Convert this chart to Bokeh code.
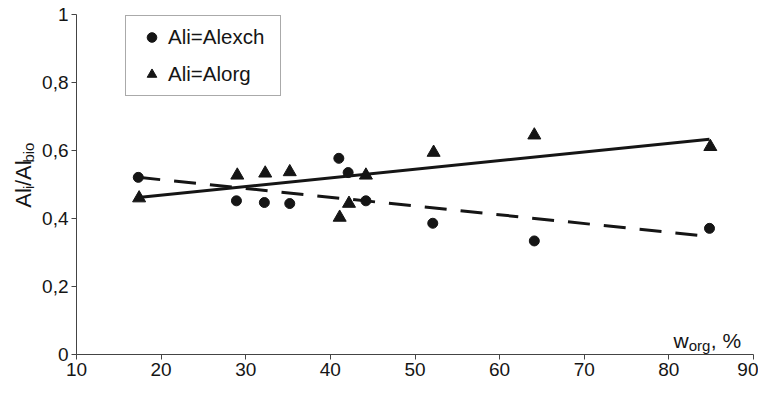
from math import pi
from bokeh.plotting import figure
from bokeh.layouts import row
from bokeh.models import Label, FixedTicker, Legend, LegendItem, Range1d
from bokeh.embed import file_html
from bokeh.resources import INLINE

# ---- data ----
w_org_exch = [17.3, 28.9, 32.2, 35.2, 41.0, 42.1, 44.2, 52.1, 64.1, 84.8]
ratio_exch = [0.521, 0.452, 0.447, 0.444, 0.577, 0.535, 0.452, 0.386, 0.334, 0.371]
w_org_org = [17.4, 29.0, 32.3, 35.2, 41.1, 42.2, 44.2, 52.2, 64.1, 84.9]
ratio_org = [0.460, 0.527, 0.533, 0.537, 0.403, 0.444, 0.527, 0.594, 0.645, 0.611]
trend_x = [17.3, 84.8]
trend_exch = [0.521, 0.347]
trend_org = [0.462, 0.633]
x_ticks = [10, 20, 30, 40, 50, 60, 70, 80, 90]
y_ticks = [0, 0.2, 0.4, 0.6, 0.8, 1]
y_tick_labels = ["0", "0,2", "0,4", "0,6", "0,8", "1"]
series_labels = ["Ali=Alexch", "Ali=Alorg"]

FONT = "Liberation Sans"
INK = "#151515"
H = 384
YW = 38                      # width of the strip holding the y title
W = 758 - YW
LEFT, RIGHT, TOP, BOTTOM = 84 - 8 - YW, 5, 14, 30
frame_w = W - LEFT - RIGHT
frame_h = H - TOP - BOTTOM

p = figure(width=W, height=H, x_range=Range1d(10, 90), y_range=Range1d(0, 1),
           output_backend="svg", toolbar_location=None,
           min_border_left=LEFT, min_border_right=RIGHT,
           min_border_top=TOP, min_border_bottom=BOTTOM)
p.outline_line_color = None
p.grid.visible = False

for ax in (p.xaxis[0], p.yaxis[0]):
    ax.axis_line_color = "#444444"
    ax.axis_line_width = 1
    ax.major_tick_line_color = "#444444"
    ax.major_tick_in = 0
    ax.major_tick_out = 5
    ax.minor_tick_in = 0
    ax.minor_tick_out = 0
    ax.major_label_text_font = FONT
    ax.major_label_text_font_size = "19px"
    ax.major_label_text_color = INK

p.xaxis[0].ticker = FixedTicker(ticks=x_ticks)
p.xaxis[0].major_label_standoff = 3
p.yaxis[0].ticker = FixedTicker(ticks=y_ticks)
p.yaxis[0].major_label_standoff = 3
p.yaxis[0].major_label_overrides = {t: s for t, s in zip(y_ticks, y_tick_labels)}

# trend lines
p.line(trend_x, trend_org, line_color=INK, line_width=3)
p.line(trend_x, trend_exch, line_color=INK, line_width=3, line_dash="22 14")

r1 = p.scatter(w_org_exch, ratio_exch, marker="circle", size=10,
               fill_color=INK, line_color=INK)
r2 = p.scatter(w_org_org, ratio_org, marker="triangle", size=13,
               fill_color=INK, line_color=INK)

legend = Legend(items=[LegendItem(label=series_labels[0], renderers=[r1]),
                       LegendItem(label=series_labels[1], renderers=[r2])],
                location=(133 - 84, frame_h - 3 - 79),
                padding=9, spacing=13, glyph_width=33, glyph_height=24,
                label_height=24, label_width=103, label_standoff=0,
                label_text_font=FONT, label_text_font_size="20.5px",
                label_text_color=INK,
                border_line_color="#555555", border_line_width=1,
                background_fill_color="white", background_fill_alpha=1)
p.add_layout(legend)

ADV = {"A": .667, "l": .222, "i": .222, "/": .278, "b": .556, "o": .556,
       "w": .722, "r": .333, "g": .556, ",": .278, " ": .278, "%": .889}

def tw(s, size):
    return sum(ADV[c] for c in s) * size

# x-axis title: w_org, %  (data coords inside the frame)
def dx(page_x):
    return 10 + (page_x - 8 - LEFT - YW) * 80 / frame_w

def dy(page_y):
    return (H - BOTTOM + 8 - page_y) / frame_h

pieces = [("w", 21, 0, 0), ("org", 15, 5, 0.5), (", %", 21, 0, 0)]
cur = 681
base_y = 348
for s, size, sub, gap in pieces:
    p.add_layout(Label(x=dx(cur), y=dy(base_y + sub), text=s,
                       text_font=FONT, text_font_size=f"{size}px",
                       text_color=INK, text_baseline="alphabetic",
                       text_align="left"))
    cur += tw(s, size) + gap

# y-axis title strip: Al_i/Al_bio rotated (each piece centred on its span)
ty = figure(width=YW, height=H, x_range=Range1d(0, YW), y_range=Range1d(0, H),
            output_backend="svg", toolbar_location=None,
            x_axis_type=None, y_axis_type=None,
            min_border_left=0, min_border_right=0,
            min_border_top=0, min_border_bottom=0)
ty.outline_line_color = None
ty.grid.visible = False

pieces = [("Al", 22, 0, 0.5), ("i", 15, 5, 1.5), ("/Al", 22, 0, 0.5), ("bio", 15, 5, 0)]
base_x = 31   # page x of baseline
cur = 225     # page y where the text starts (bottom)
for s, size, sub, gap in pieces:
    w = tw(s, size)
    mid = cur - w / 2
    ty.add_layout(Label(x=base_x + sub - 8, y=H - (mid - 8), text=s,
                        angle=pi / 2, text_font=FONT,
                        text_font_size=f"{size}px", text_color=INK,
                        text_baseline="alphabetic", text_align="center"))
    cur -= w + gap

layout = row(ty, p, spacing=0)
open("out.html", "w").write(file_html(layout, INLINE))
